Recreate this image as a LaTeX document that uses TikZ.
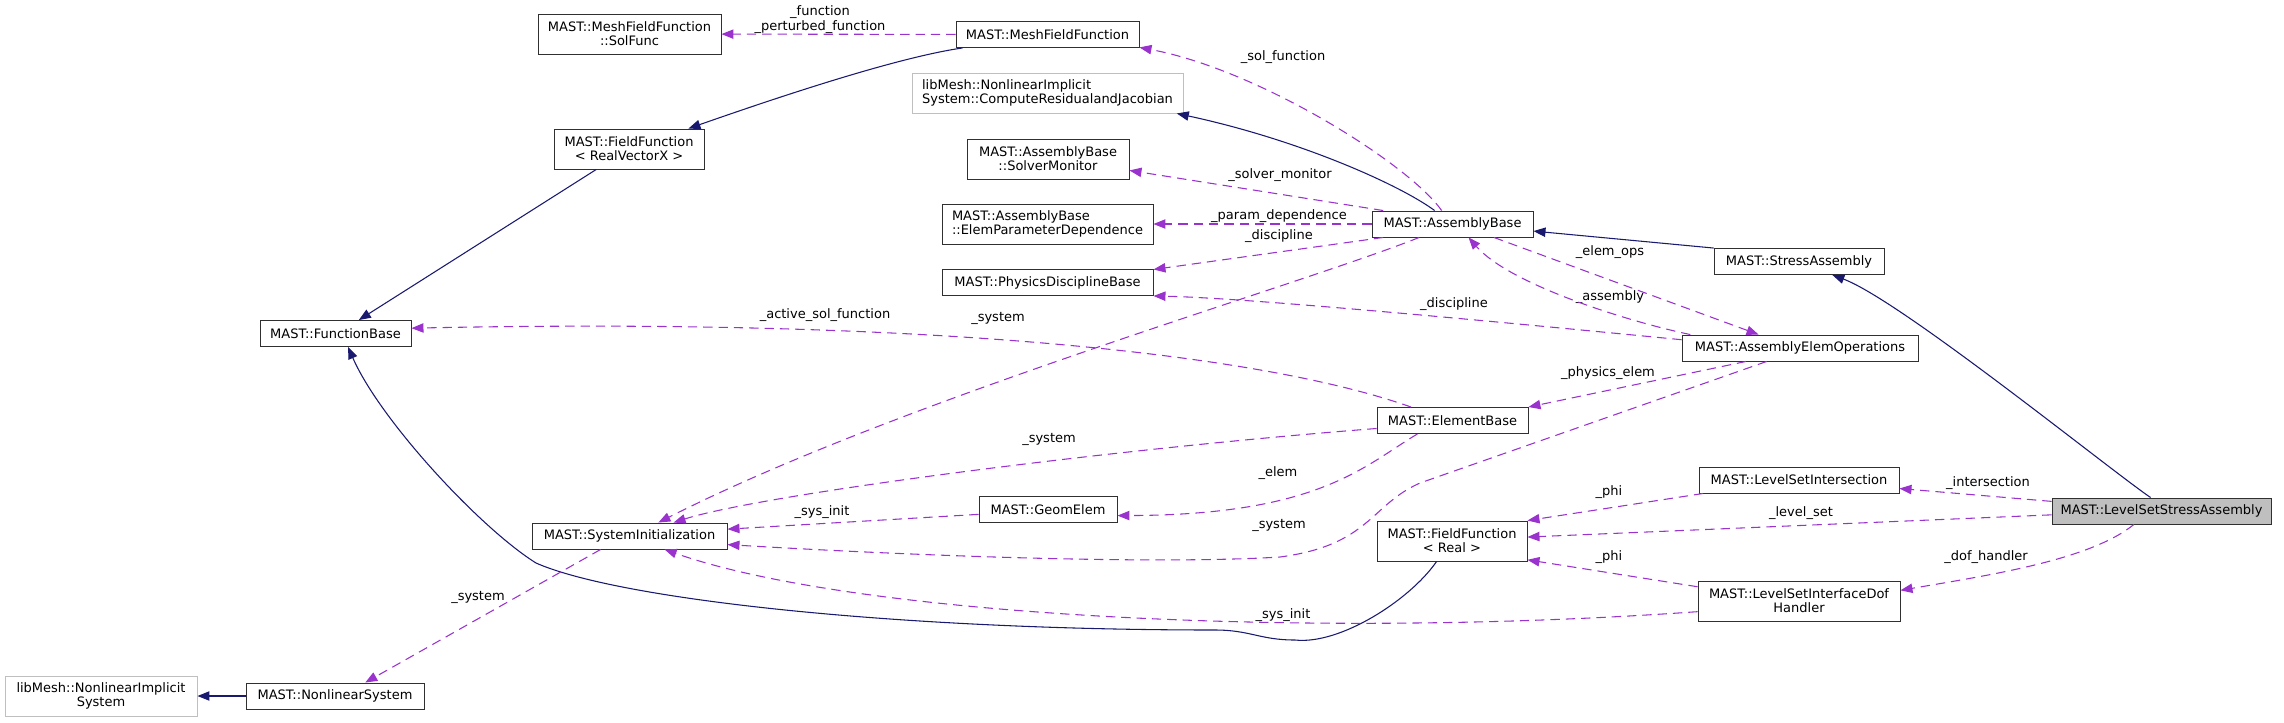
\documentclass[tikz,border=0pt]{standalone}
\usepackage{fontspec}
\setmainfont{DejaVu Sans}
\usetikzlibrary{arrows.meta}
\definecolor{edgeblue}{HTML}{191970}
\definecolor{edgepurple}{HTML}{9A32CD}
\definecolor{boxgray}{HTML}{BFBFBF}
\definecolor{boxline}{HTML}{303030}
\tikzset{
  cls/.style={draw=boxline,line width=0.7pt,fill=white,inner xsep=2pt,inner ysep=0pt,minimum height=19.5pt,align=center},
  cls2/.style={cls,minimum height=30pt},
  ext/.style={cls2,draw=boxgray},
  inh/.style={-{Triangle[length=9pt,width=7pt]},color=edgeblue,line width=0.8pt},
  dep/.style={-{Triangle[length=9pt,width=7pt]},color=edgepurple,line width=0.8pt,dash pattern=on 7pt off 4.5pt},
  lbl/.style={inner sep=0pt,align=center}
}

\begin{document}
\begin{tikzpicture}[x=0.75pt,y=-0.75pt,font=\fontsize{9.75}{10.7}\selectfont]
    \useasboundingbox (0,0) rectangle (2284,722);
    % Definitions
    \coordinate (SF) at (629.5,34);
    \coordinate (MF) at (1047.5,34.5);
    \coordinate (CR) at (1047.5,93);
    \coordinate (FV) at (629,149);
    \coordinate (SM) at (1048,159);
    \coordinate (PD) at (1047.5,224);
    \coordinate (AB) at (1452.5,224);
    \coordinate (DB) at (1047.5,282.5);
    \coordinate (SA) at (1799,261.5);
    \coordinate (FB) at (335.5,333.5);
    \coordinate (AE) at (1800,348);
    \coordinate (EB) at (1452.5,420.5);
    \coordinate (GE) at (1048,509.5);
    \coordinate (SI) at (629.5,536);
    \coordinate (FR) at (1452,541);
    \coordinate (LI) at (1799,480);
    \coordinate (LA) at (2161.5,511);
    \coordinate (LD) at (1799,601);
    \coordinate (NI) at (101,696);
    \coordinate (NS) at (335,696);
    % Nodes
    \node(MeFiSo)   at (SF) [cls2,minimum width=137.25pt] {MAST::MeshFieldFunction\\::SolFunc};
    \node(MeFiFu)   at (MF) [cls,minimum width=137.25pt]  {MAST::MeshFieldFunction};
    \node(NoCoRe)   at (CR) [ext,minimum width=203.25pt,align=left] {libMesh::NonlinearImplicit\\System::ComputeResidualandJacobian};
    \node(FiFuVe)   at (FV) [cls2,minimum width=112.5pt]  {MAST::FieldFunction\\< RealVectorX >};
    \node(AsSoMo)   at (SM) [cls2,minimum width=121.5pt]  {MAST::AssemblyBase\\::SolverMonitor};
    \node(AsElPa)   at (PD) [cls2,minimum width=158.25pt,align=left] {MAST::AssemblyBase\\::ElemParameterDependence};
    \node(AsBa)     at (AB) [cls,minimum width=120.75pt]  {MAST::AssemblyBase};
    \node(PhDiBa)   at (DB) [cls,minimum width=158.25pt]  {MAST::PhysicsDisciplineBase};
    \node(StAs)     at (SA) [cls,minimum width=127.5pt]   {MAST::StressAssembly};
    \node(FuBa)     at (FB) [cls,minimum width=113.25pt]  {MAST::FunctionBase};
    \node(AsElOp)   at (AE) [cls,minimum width=177pt]     {MAST::AssemblyElemOperations};
    \node(ElBa)     at (EB) [cls,minimum width=113.25pt]  {MAST::ElementBase};
    \node(GeEl)     at (GE) [cls,minimum width=103.5pt]   {MAST::GeomElem};
    \node(SyIn)     at (SI) [cls,minimum width=146.25pt]  {MAST::SystemInitialization};
    \node(FiFuRe)   at (FR) [cls2,minimum width=112.5pt]  {MAST::FieldFunction\\< Real >};
    \node(LeSeIn)   at (LI) [cls,minimum width=150pt]     {MAST::LevelSetIntersection};
    \node(LeSeStAs) at (LA) [cls,minimum width=164.25pt,fill=boxgray] {MAST::LevelSetStressAssembly};
    \node(LeSeInDo) at (LD) [cls2,minimum width=151.5pt]  {MAST::LevelSetInterfaceDof\\Handler};
    \node(NoImSy)   at (NI) [ext,minimum width=144pt]     {libMesh::NonlinearImplicit\\System};
    \node(NoSy)     at (NS) [cls,minimum width=133.5pt]   {MAST::NonlinearSystem};
    % Labels
    \node(lFunc)  at (820,19.5) [lbl] {\_function\\\_perturbed\_function};
    \node(lSolFu) at (1283,57)  [lbl] {\_sol\_function};
    \node(lSoMo)  at (1280,175) [lbl] {\_solver\_monitor};
    \node(lPaDe)  at (1279,216) [lbl] {\_param\_dependence};
    \node(lDisc)  at (1279,236) [lbl] {\_discipline};
    \node(lSys)   at (998,318)  [lbl] {\_system};
    \node(lAcSo)  at (825,315)  [lbl] {\_active\_sol\_function};
    \node(lElOp)  at (1610,252) [lbl] {\_elem\_ops};
    \node(lAsse)  at (1610,297) [lbl] {\_assembly};
    \node(lDisc2) at (1454,304) [lbl] {\_discipline};
    \node(lPhEl)  at (1608,373) [lbl] {\_physics\_elem};
    \node(lSys2)  at (1049,439) [lbl] {\_system};
    \node(lElem)  at (1278,473) [lbl] {\_elem};
    \node(lSyIn)  at (822,512)  [lbl] {\_sys\_init};
    \node(lSys3)  at (1279,525) [lbl] {\_system};
    \node(lSyIn2) at (1283,615) [lbl] {\_sys\_init};
    \node(lPhi)   at (1609,492) [lbl] {\_phi};
    \node(lLeSe)  at (1801,513) [lbl] {\_level\_set};
    \node(lPhi2)  at (1609,557) [lbl] {\_phi};
    \node(lInte)  at (1988,483) [lbl] {\_intersection};
    \node(lDoHa)  at (1986,557) [lbl] {\_dof\_handler};
    \node(lSys4)  at (478,597)  [lbl] {\_system};
    % Arrows (inheritance)
    \draw[inh] (MeFiFu.189) .. controls (900,57) and (790,93) .. (FiFuVe.19);
    \draw[inh] (FiFuVe.212) -- (FuBa.30);
    \draw[inh] (FiFuRe.233) .. controls (1410,600) and (1340,645) .. (1295,640)
                            .. controls (1260,640) and (1250,630) .. (1215,630)
                            .. controls (900,630) and (620,600) .. (536,563)
                            .. controls (480,528) and (380,420) .. (FuBa.313);
    \draw[inh] (AsBa.143) .. controls (1400,185) and (1300,140) .. (NoCoRe.351);
    \draw[inh] (StAs.north west) -- (AsBa.355);
    \draw[inh] (LeSeStAs.129) .. controls (2110,470) and (1900,300) .. (StAs.338);
    \draw[inh] (NoSy) -- (NoImSy);
    % Arrows (usage)
    \draw[dep] (MeFiFu) -- (MeFiSo);
    \draw[dep] (AsBa.129) .. controls (1410,165) and (1260,70) .. (MeFiFu.352);
    \draw[dep] (AsBa.169) -- (AsSoMo.352);
    \draw[dep] (AsBa) -- (AsElPa);
    \draw[dep] (AsBa.191) -- (PhDiBa.7);
    \draw[dep] (AsBa.202) .. controls (1300,285) and (900,400) .. (SyIn.25);
    \draw[dep] (AsBa.342) -- (AsElOp.162);
    \draw[dep] (AsElOp.173) .. controls (1630,322) and (1510,285) .. (AsBa.320);
    \draw[dep] (AsElOp.176) .. controls (1500,322) and (1250,298) .. (PhDiBa.south east);
    \draw[dep] (AsElOp.194) -- (ElBa.north east);
    \draw[dep] (AsElOp.202) -- (1420,483) .. controls (1370,505) and (1370,545) .. (1280,557)
                            .. controls (1150,565) and (900,555) .. (SyIn.355);
    \draw[dep] (ElBa.186) .. controls (1100,450) and (760,495) .. (SyIn.17);
    \draw[dep] (ElBa.201) .. controls (1365,465) and (1320,515) .. (GeEl.355);
    \draw[dep] (GeEl.184) -- (SyIn.4);
    \draw[dep] (ElBa.162) .. controls (1250,350) and (900,318) .. (FuBa.4);
    \draw[dep] (LeSeIn.188) -- (FiFuRe.north east);
    \draw[dep] (LeSeStAs.182) -- (FiFuRe.3);
    \draw[dep] (LeSeInDo.172) -- (FiFuRe.346);
    \draw[dep] (LeSeInDo.186) .. controls (1300,640) and (850,615) .. (SyIn.339);
    \draw[dep] (LeSeStAs.175) -- (LeSeIn);
    \draw[dep] (LeSeStAs.206) .. controls (2090,560) and (1990,575) .. (LeSeInDo.6);
    \draw[dep] (SyIn.205) -- (NoSy.24);
\end{tikzpicture}
\end{document}
